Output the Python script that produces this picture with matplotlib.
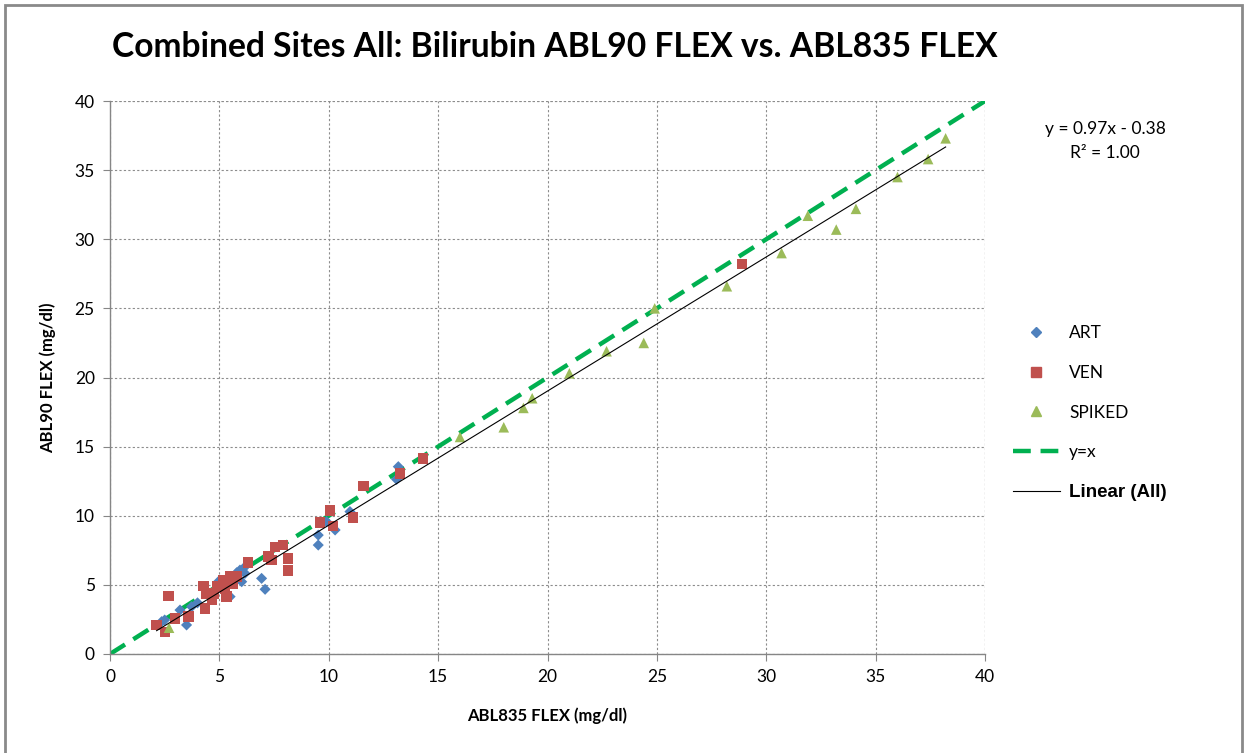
import matplotlib
matplotlib.use("Agg")
import matplotlib.pyplot as plt
from matplotlib.patches import Rectangle
from matplotlib.lines import Line2D
import numpy as np

# ---- data ----
art_x = [2.36, 2.50, 3.20, 3.50, 3.73, 4.00, 4.50, 4.95, 5.03, 5.30, 5.49, 5.79, 6.02, 6.10, 6.17, 5.94,
         6.93, 7.09, 9.52, 9.52, 9.90, 10.29, 10.97, 13.10, 13.18]
art_y = [2.34, 2.46, 3.18, 2.10, 3.42, 3.70, 4.30, 5.23, 5.23, 4.90, 4.15, 5.88, 5.23, 6.20, 5.83, 6.07,
         5.47, 4.68, 8.60, 7.88, 9.57, 8.97, 10.30, 12.63, 13.55]

ven_x = [2.13, 2.51, 2.67, 2.97, 3.58, 4.27, 4.34, 4.42, 4.65, 4.73, 4.88, 5.18, 5.26, 5.33, 5.49, 5.56,
         5.63, 5.79, 6.32, 7.24, 7.39, 7.54, 7.92, 8.15, 8.15, 9.60, 10.06, 10.20, 11.12, 11.58, 13.26,
         14.30, 28.90]
ven_y = [2.10, 1.60, 4.20, 2.58, 2.70, 4.92, 3.30, 4.39, 3.90, 4.39, 4.87, 5.35, 4.68, 4.15, 5.60, 5.23,
         5.11, 5.60, 6.63, 7.04, 6.80, 7.76, 7.88, 6.92, 6.03, 9.50, 10.37, 9.26, 9.86, 12.15, 13.07,
         14.15, 28.20]

spk_x = [2.7, 16.0, 18.0, 18.9, 19.3, 21.0, 22.7, 24.4, 24.9, 28.2, 30.7, 31.9, 33.2, 34.1, 36.0, 37.4, 38.2]
spk_y = [1.9, 15.7, 16.4, 17.8, 18.5, 20.3, 21.9, 22.5, 25.0, 26.6, 29.0, 31.7, 30.7, 32.2, 34.5, 35.8, 37.3]

fit_slope = 0.97
fit_intercept = -0.38
identity = [0, 40]

x_ticks = [0, 5, 10, 15, 20, 25, 30, 35, 40]
y_ticks = [0, 5, 10, 15, 20, 25, 30, 35, 40]

title = "Combined Sites All: Bilirubin ABL90 FLEX vs. ABL835 FLEX"
xlabel = "ABL835 FLEX (mg/dl)"
ylabel = "ABL90 FLEX (mg/dl)"
eq_text = "y = 0.97x - 0.38\nR² = 1.00"

W, H = 1246, 753
fig = plt.figure(figsize=(W / 100, H / 100), dpi=100)
fig.patch.set_facecolor("white")

ax = fig.add_axes([110 / W, 1 - 654 / H, (985 - 110) / W, (654 - 101) / H])

grid_c = "#8c8c8c"
ax.set_xlim(0, 40)
ax.set_ylim(0, 40)
ax.set_xticks(x_ticks)
ax.set_yticks(y_ticks)
ax.grid(True, color=grid_c, linestyle=(0, (2, 2)), linewidth=0.8)
ax.set_axisbelow(True)
for s in ["top", "right"]:
    ax.spines[s].set_visible(False)
for s in ["left", "bottom"]:
    ax.spines[s].set_color("#868686")
    ax.spines[s].set_linewidth(1.0)
ax.tick_params(direction="out", length=5, color="#868686", labelsize=12.5, pad=6)
for lab in ax.get_xticklabels() + ax.get_yticklabels():
    lab.set_fontfamily("Lato")
# dotted frame on top/right at 40
ax.axhline(40, color=grid_c, linestyle=(0, (2, 2)), linewidth=0.8, zorder=0)
ax.axvline(40, color=grid_c, linestyle=(0, (2, 2)), linewidth=0.8, zorder=0)

# y = x
ax.plot(identity, identity, color="#00B050", linestyle=(0, (4, 2.2)), linewidth=3.2, zorder=2)

ax.scatter(art_x, art_y, marker="D", s=32, color="#4F81BD", edgecolors="none", zorder=3)
ax.scatter(ven_x, ven_y, marker="s", s=56, color="#C0504D", edgecolors="none", zorder=4)
ax.scatter(spk_x, spk_y, marker="^", s=58, color="#9BBB59", edgecolors="none", zorder=5)

all_x = np.array(art_x + ven_x + spk_x)
fx = np.array([all_x.min(), all_x.max()])
ax.plot(fx, fit_slope * fx + fit_intercept, color="black", linewidth=0.8, zorder=6)

ax.set_xlabel(xlabel, fontsize=12, fontweight="bold", family="Lato", labelpad=16)
ax.set_ylabel(ylabel, fontsize=12, fontweight="bold", family="Lato", labelpad=13)

fig.text(555 / W, 1 - 47 / H, title, ha="center", va="center", fontsize=24.2,
         fontweight="bold", family="Lato")
fig.text(1105 / W, 1 - 141 / H, eq_text, ha="center", va="center", fontsize=12.5,
         family="Lato", linespacing=1.6)

# legend
handles = [
    Line2D([], [], marker="D", linestyle="none", color="#4F81BD", markersize=5),
    Line2D([], [], marker="s", linestyle="none", color="#C0504D", markersize=6.5),
    Line2D([], [], marker="^", linestyle="none", color="#9BBB59", markersize=6.5),
    Line2D([], [], color="#00B050", linestyle=(0, (4, 2.2)), linewidth=3.2),
    Line2D([], [], color="black", linewidth=0.8),
]
labels = ["ART", "VEN", "SPIKED", "y=x", "Linear (All)"]
leg = fig.legend(handles, labels, loc="upper left", bbox_to_anchor=(997 / W, 1 - 309 / H),
                 frameon=False, labelspacing=1.38, handlelength=2.7,
                 handletextpad=0.55, prop={"family": "Lato", "size": 12.5})
txts = leg.get_texts()
txts[4].set_fontweight("bold")
txts[4].set_family("Liberation Sans")
txts[4].set_fontsize(13.5)

# outer border
fig.add_artist(Rectangle((5 / W, -0.05), (1242 - 5) / W, 1.05 - 5 / H, transform=fig.transFigure,
                         fill=False, edgecolor="#8a8a8a", linewidth=2))

fig.savefig("out.png", dpi=100, facecolor="white")
